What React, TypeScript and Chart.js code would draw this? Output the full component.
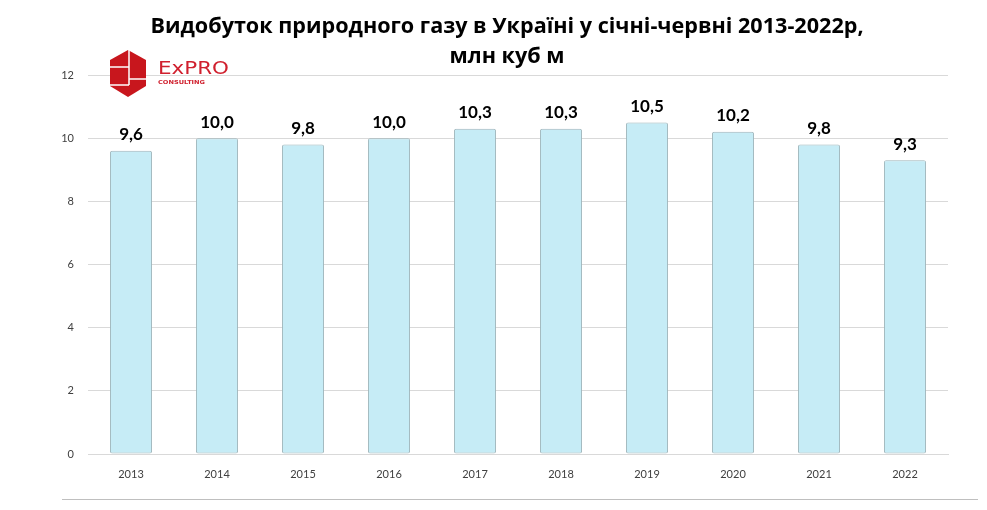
import React, { useEffect, useRef } from "react";
import { Chart, registerables } from "chart.js";

Chart.register(...registerables);

const categories = ["2013", "2014", "2015", "2016", "2017", "2018", "2019", "2020", "2021", "2022"];
const production = [9.6, 10.0, 9.8, 10.0, 10.3, 10.3, 10.5, 10.2, 9.8, 9.3];
const titleLines = ["Видобуток природного газу в Україні у січні-червні 2013-2022р,", "млн куб м"];

const FONT = "Lato, 'Open Sans', sans-serif";
const TITLE_FONT = "'Open Sans', Lato, sans-serif";

const valueLabels = {
  id: "valueLabels",
  afterDatasetsDraw(chart: any) {
    const ctx = chart.ctx;
    const meta = chart.getDatasetMeta(0);
    ctx.save();
    ctx.font = `bold 17px ${FONT}`;
    ctx.fillStyle = "#000000";
    ctx.textAlign = "center";
    ctx.textBaseline = "middle";
    meta.data.forEach((bar: any, i: number) => {
      const v = chart.data.datasets[0].data[i] as number;
      ctx.fillText(v.toFixed(1).replace(".", ","), bar.x, bar.y - 16);
    });
    ctx.restore();
  },
};

export default function App() {
  const ref = useRef<HTMLCanvasElement | null>(null);

  useEffect(() => {
    if (!ref.current) return;
    const chart = new Chart(ref.current, {
      type: "bar",
      data: {
        labels: categories,
        datasets: [
          {
            data: production,
            backgroundColor: (c: any) => {
              const bar = c.element;
              const area = c.chart.chartArea;
              if (!area || !bar || bar.width === undefined) return "#c6ecf6";
              const x0 = bar.x - bar.width / 2;
              const g = c.chart.ctx.createLinearGradient(x0, 0, x0 + bar.width, 0);
              g.addColorStop(0, "#c3e9f4");
              g.addColorStop(0.7, "#c9eef8");
              g.addColorStop(1, "#b9dde8");
              return g;
            },
            borderColor: "#9db3b9",
            borderWidth: 1,
            borderRadius: 2,
            borderSkipped: false,
            categoryPercentage: 1,
            barPercentage: 0.49,
          },
        ],
      },
      options: {
        responsive: false,
        animation: false,
        devicePixelRatio: 1,
        layout: { padding: { left: 0, right: 39, top: 75, bottom: 0 } },
        plugins: {
          legend: { display: false },
          tooltip: { enabled: false },
          title: { display: false },
        },
        scales: {
          x: {
            grid: { display: false, drawTicks: false },
            border: { display: true, color: "#d9d9d9" },
            ticks: { color: "#404040", font: { family: FONT, size: 11 }, padding: 14 },
            afterFit: (s: any) => {
              s.height = 56;
            },
          },
          y: {
            min: 0,
            max: 12,
            ticks: { stepSize: 2, color: "#404040", font: { family: FONT, size: 11 }, padding: 14 },
            grid: { color: "#d9d9d9", drawTicks: false },
            border: { display: false },
            afterFit: (s: any) => {
              s.width = 88;
            },
          },
        },
      },
      plugins: [valueLabels],
    });
    return () => chart.destroy();
  }, []);

  return (
    <div style={{ position: "absolute", left: 0, top: 0, width: 987, height: 510, background: "#fff" }}>
      <canvas ref={ref} width={987} height={510} style={{ position: "absolute", left: 0, top: 0 }} />
      <div
        style={{
          position: "absolute",
          left: 0,
          top: 10,
          width: 1014,
          textAlign: "center",
          fontFamily: TITLE_FONT,
          fontWeight: "bold",
          fontSize: 21.6,
          lineHeight: "30px",
          color: "#000",
        }}
      >
        {titleLines.map((l) => (
          <div key={l}>{l}</div>
        ))}
      </div>
      <svg width={140} height={60} style={{ position: "absolute", left: 105, top: 48 }} viewBox="0 0 140 60">
        <polygon points="23,2 41,12 41,38 23,49 5,38 5,12" fill="#c8161d" />
        <line x1="24" y1="2" x2="24" y2="37" stroke="#fff" strokeWidth="1.5" />
        <line x1="5" y1="19" x2="24" y2="19" stroke="#fff" strokeWidth="1.5" />
        <line x1="24" y1="31" x2="41" y2="31" stroke="#fff" strokeWidth="1.5" />
        <line x1="5" y1="37" x2="24" y2="37" stroke="#fff" strokeWidth="1.5" />
        <text x="53" y="25.5" fill="#d0202e" fontFamily="'DejaVu Sans', sans-serif" fontSize="17" textLength="71" lengthAdjust="spacingAndGlyphs">
          ExPRO
        </text>
        <text x="53" y="36" fill="#d0202e" fontFamily="'DejaVu Sans', sans-serif" fontSize="5.5" fontWeight="bold" textLength="47" lengthAdjust="spacingAndGlyphs">
          CONSULTING
        </text>
      </svg>
      <div style={{ position: "absolute", left: 62, top: 499, width: 916, height: 1, background: "#bfbfbf" }} />
    </div>
  );
}
